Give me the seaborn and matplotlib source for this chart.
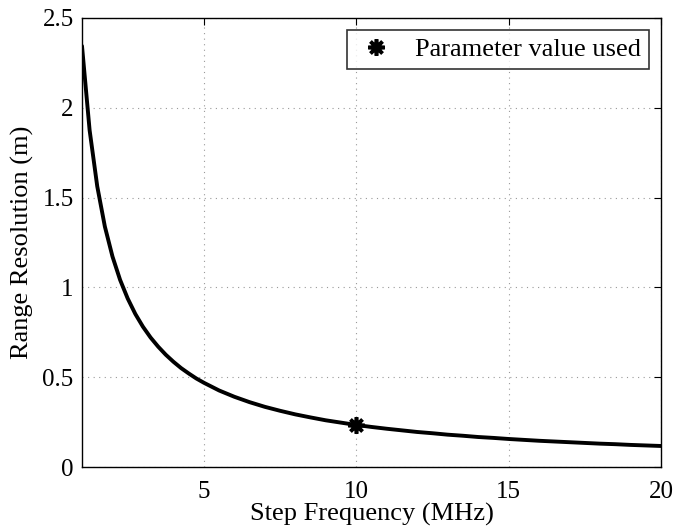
import matplotlib
matplotlib.use("Agg")
import matplotlib.pyplot as plt
import seaborn as sns
import pandas as pd

# Range resolution versus step frequency
step_freq_mhz = [1.0, 1.25, 1.5, 1.75, 2.0, 2.25, 2.5, 2.75, 3.0, 3.25, 3.5, 3.75,
                 4.0, 4.25, 4.5, 4.75, 5.0, 5.5, 6.0, 6.5, 7.0, 7.5, 8.0, 8.5,
                 9.0, 9.5, 10.0, 10.5, 11.0, 11.5, 12.0, 12.5, 13.0, 13.5, 14.0,
                 14.5, 15.0, 15.5, 16.0, 16.5, 17.0, 17.5, 18.0, 18.5, 19.0,
                 19.5, 20.0]
range_res_m = [2.344, 1.875, 1.563, 1.339, 1.172, 1.042, 0.938, 0.852, 0.781,
               0.721, 0.670, 0.625, 0.586, 0.551, 0.521, 0.493, 0.469, 0.426,
               0.391, 0.361, 0.335, 0.313, 0.293, 0.276, 0.260, 0.247, 0.234,
               0.223, 0.213, 0.204, 0.195, 0.188, 0.180, 0.174, 0.167, 0.162,
               0.156, 0.151, 0.146, 0.142, 0.138, 0.134, 0.130, 0.127, 0.123,
               0.120, 0.117]

used_freq = [10.0]
used_res = [0.234]

x_ticks = [5, 10, 15, 20]
y_ticks = [0, 0.5, 1, 1.5, 2, 2.5]
y_tick_labels = ["0", "0.5", "1", "1.5", "2", "2.5"]

sns.set_theme(style="white")
plt.rcParams["font.family"] = ["Liberation Serif", "DejaVu Serif"]
plt.rcParams["text.color"] = "black"
plt.rcParams["axes.labelcolor"] = "black"
plt.rcParams["xtick.color"] = "black"
plt.rcParams["ytick.color"] = "black"

curve = pd.DataFrame({"f": step_freq_mhz, "r": range_res_m})
point = pd.DataFrame({"f": used_freq, "r": used_res})

fig = plt.figure(figsize=(6.77, 5.32), dpi=100)
ax = fig.add_axes([82 / 677, 1 - 467 / 532, (661 - 82) / 677, (467 - 18) / 532])

sns.lineplot(data=curve, x="f", y="r", ax=ax, color="black", linewidth=2.8,
             legend=False, zorder=3)
ax.plot(point["f"], point["r"], linestyle="none", marker=(8, 2, 0),
        markersize=12, markeredgewidth=2.6, color="black", zorder=4,
        label="Parameter value used")

ax.set_xlim(1, 20)
ax.set_ylim(0, 2.5)
ax.set_xticks(x_ticks)
ax.set_yticks(y_ticks)
ax.set_yticklabels(y_tick_labels)

ax.grid(True, color="#999999", linestyle=(0, (1, 4)), linewidth=0.8)
ax.tick_params(direction="in", length=5, width=0.8, colors="black",
               labelcolor="black", labelsize=18, top=True, right=True)
ax.tick_params(axis="x", pad=10)
ax.tick_params(axis="y", pad=6)
for spine in ax.spines.values():
    spine.set_color("black")
    spine.set_linewidth(1.0)

ax.set_xlabel("Step Frequency (MHz)", fontsize=19, labelpad=0, color="black")
ax.set_ylabel("Range Resolution (m)", fontsize=19, labelpad=6, color="black")

leg = ax.legend(loc="upper right", fontsize=19, frameon=True, fancybox=False,
                borderpad=0.3, handlelength=1.6, handletextpad=0.7,
                borderaxespad=0.45, labelcolor="black")
leg.get_frame().set_edgecolor("black")
leg.get_frame().set_linewidth(1.2)

fig.savefig("out.png", dpi=100)
